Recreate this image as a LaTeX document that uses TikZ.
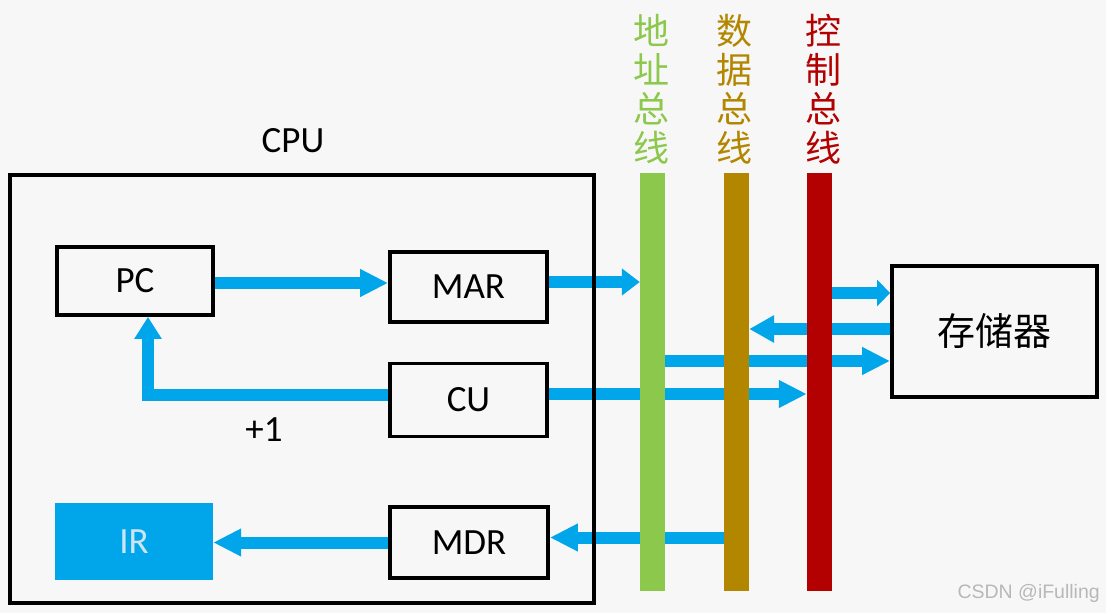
\documentclass[tikz,border=0pt]{standalone}
\usepackage{fontspec}
\setmainfont{Carlito}
\newfontfamily\cjk{Noto Sans CJK SC}
\newfontfamily\wmfont{Liberation Sans}
\usetikzlibrary{arrows.meta}
\definecolor{bgc}{HTML}{F7F7F7}
\definecolor{arrowblue}{HTML}{00A6E9}
\definecolor{busgreen}{HTML}{8CC84B}
\definecolor{busbrown}{HTML}{B38600}
\definecolor{busred}{HTML}{B30000}
\definecolor{irtext}{HTML}{CDE5F2}
\definecolor{wmgrey}{HTML}{B8B8B8}
\pgfdeclarelayer{back}
\pgfdeclarelayer{arrowlayer}
\pgfsetlayers{back,arrowlayer,main}
\begin{document}
\begin{tikzpicture}[x=1pt,y=-1pt,
  box/.style={draw=black, line width=3.8pt, inner sep=0pt, font=\fontsize{37}{44}\selectfont},
  flow/.style={draw=arrowblue, line width=12pt, line join=miter, -{Triangle[length=28pt,width=26pt]}},
  bus/.style={minimum width=25pt, minimum height=418pt, inner sep=0pt, draw=none},
  buslabel/.style={font=\cjk\fontsize{36}{39}\selectfont, align=center, inner sep=0pt},
]
\begin{pgfonlayer}{back}
  \fill[bgc] (0,0) rectangle (1106,613);
\end{pgfonlayer}
\path[use as bounding box] (0,0) rectangle (1106,613);

% CPU
\node[box, minimum width=584pt, minimum height=428pt] (cpu) at (302,389) {};
\node[font=\fontsize{37}{44}\selectfont] (cpulabel) at (293,141) {CPU};

\node[box, minimum width=156pt, minimum height=68pt] (pc) at (135,281) {PC};
\node[box, minimum width=157pt, minimum height=70pt] (mar) at (468.5,287) {MAR};
\node[box, minimum width=157pt, minimum height=73pt] (cu) at (468.5,400) {CU};
\node[box, minimum width=158pt, minimum height=71pt] (mdr) at (469,542.5) {MDR};
\node[fill=arrowblue, text=irtext, inner sep=0pt, minimum width=158pt, minimum height=77pt,
      font=\fontsize{37}{44}\selectfont] (ir) at (134,541.5) {IR};
\node[font=\fontsize{37}{44}\selectfont] (plus) at (264,430) {+1};

% memory
\node[box, minimum width=205pt, minimum height=131pt, font=\cjk\fontsize{38}{44}\selectfont] (mem) at (994.5,331.5) {存储器};

% buses
\node[bus, fill=busgreen] (gbus) at (652.5,382) {};
\node[bus, fill=busbrown] (bbus) at (736.5,382) {};
\node[bus, fill=busred] (rbus) at (819.5,382) {};
\node[buslabel, text=busgreen] (glabel) at (651,89) {地\\址\\总\\线};
\node[buslabel, text=busbrown] (blabel) at (734,89) {数\\据\\总\\线};
\node[buslabel, text=busred] (rlabel) at (823,89) {控\\制\\总\\线};

% watermark
\node[font=\wmfont\fontsize{19.5}{22}\selectfont, text=wmgrey, anchor=east, inner sep=0pt] (wm) at (1100,593) {CSDN @iFulling};

% arrows
\coordinate (loopA) at ([yshift=5pt]cu.west);
\coordinate (loopB) at ([xshift=13pt]pc.south);
\coordinate (c1) at ([yshift=5pt]mar.east);
\coordinate (c2) at ([yshift=6pt]cu.east);
\coordinate (c3) at ([yshift=5pt]mdr.east);
\coordinate (m1) at ([yshift=38.5pt]mem.west);
\coordinate (m2) at ([yshift=2.5pt]mem.west);
\coordinate (m3) at ([yshift=-29.5pt]mem.west);
\begin{pgfonlayer}{arrowlayer}
  \draw[flow] ([yshift=-2pt]pc.east) -- ([yshift=-2pt]pc.east -| mar.west);
  \draw[flow, -{Triangle[length=18pt,width=26pt]}] (c1) -- (c1 -| gbus.west);
  \draw[flow, -{Triangle[length=22pt,width=26pt]}] (loopA) -- (loopA -| loopB) -- (loopB);
  \draw[flow] (c2) -- (c2 -| rbus.west);
  \draw[flow] (c3 -| bbus.west) -- (c3);
  \draw[flow] (mdr.west) -- (mdr.west -| ir.east);
  \draw[flow, -{Triangle[length=13pt,width=26pt]}] (m1 -| rbus.east) -- (m1);
  \draw[flow, -{Triangle[length=25pt,width=26pt]}] (m2) -- (m2 -| bbus.east);
  \draw[flow] (m3 -| gbus.east) -- (m3);
\end{pgfonlayer}
\end{tikzpicture}
\end{document}
